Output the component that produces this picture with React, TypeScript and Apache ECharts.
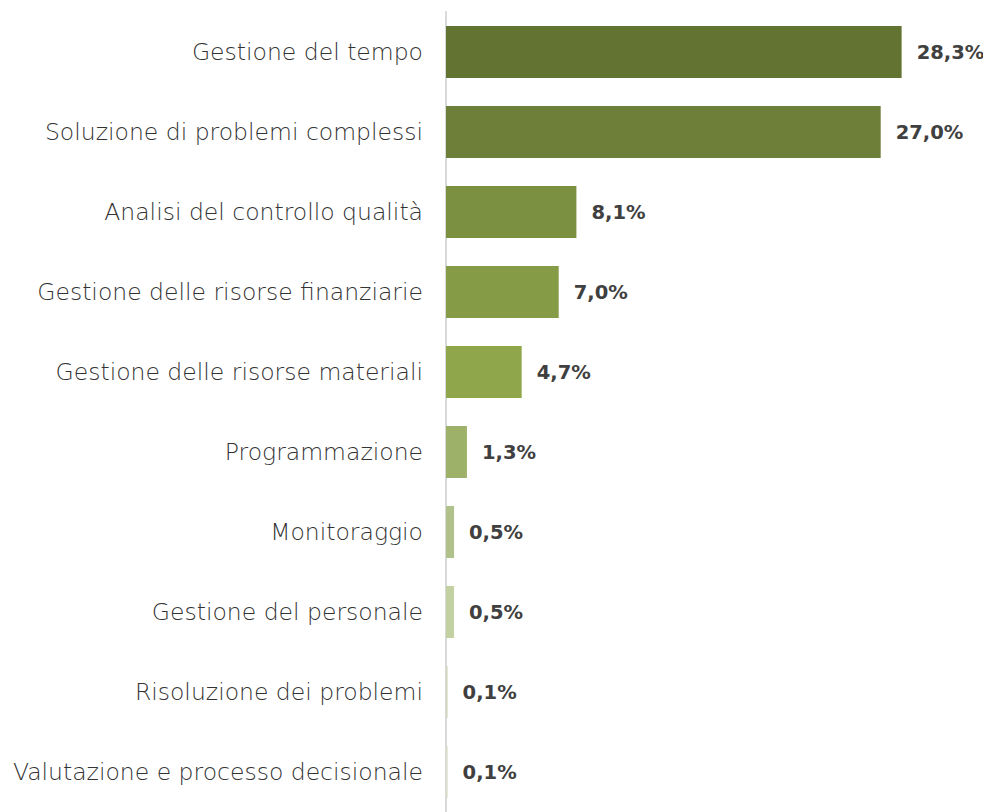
import React, { useEffect, useRef } from "react";
import * as echarts from "echarts";

const categories = [
  "Gestione del tempo",
  "Soluzione di problemi complessi",
  "Analisi del controllo qualità",
  "Gestione delle risorse finanziarie",
  "Gestione delle risorse materiali",
  "Programmazione",
  "Monitoraggio",
  "Gestione del personale",
  "Risoluzione dei problemi",
  "Valutazione e processo decisionale",
];
const values = [28.3, 27.0, 8.1, 7.0, 4.7, 1.3, 0.5, 0.5, 0.1, 0.1];
const colors = [
  "#637332",
  "#6e7f39",
  "#7b9040",
  "#869b45",
  "#90a64b",
  "#9db169",
  "#b1c18b",
  "#c3d0a2",
  "#d2d8bd",
  "#dadcca",
];

export default function App() {
  const ref = useRef<HTMLDivElement>(null);
  useEffect(() => {
    if (!ref.current) return;
    const chart = echarts.init(ref.current, undefined, { renderer: "svg" });
    chart.setOption({
      animation: false,
      grid: { left: 446, top: 12, width: 483, height: 805, containLabel: false },
      xAxis: {
        type: "value",
        min: 0,
        max: 30,
        show: false,
      },
      yAxis: {
        type: "category",
        data: categories,
        inverse: true,
        axisLine: { show: true, lineStyle: { color: "#d9d9d9", width: 2 } },
        axisTick: { show: false },
        axisLabel: {
          margin: 23,
          fontFamily: "DejaVu Sans",
          fontWeight: 200,
          fontSize: 23.5,
          color: "#333333",
        },
      },
      series: [
        {
          type: "bar",
          data: values.map((v, i) => ({ value: v, itemStyle: { color: colors[i] } })),
          barCategoryGap: "35%",
          label: {
            show: true,
            position: "right",
            distance: 15,
            fontFamily: "DejaVu Sans",
            fontWeight: "bold",
            fontSize: 19.5,
            color: "#404040",
            formatter: (p: any) => p.value.toFixed(1).replace(".", ",") + "%",
          },
        },
      ],
    });
    return () => chart.dispose();
  }, []);
  return <div ref={ref} style={{ width: 991, height: 812, margin: "-8px 0 0 -8px" }} />;
}
